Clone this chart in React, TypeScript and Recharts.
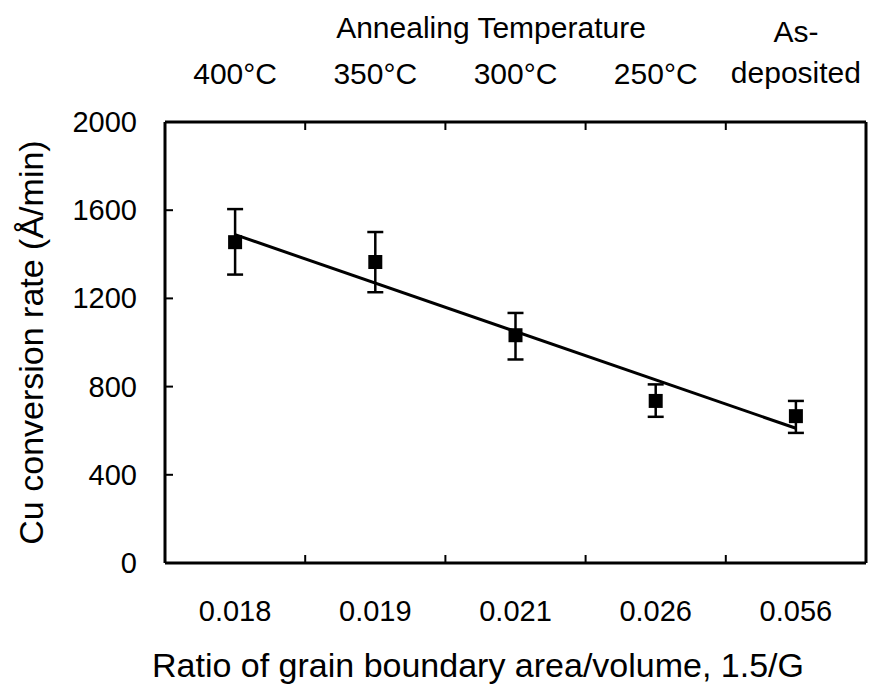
import React from 'react';
import { ComposedChart, Scatter, ErrorBar, XAxis, YAxis, ReferenceLine } from 'recharts';

// grain boundary ratio per sample (bottom axis) and matching anneal condition (top axis)
const ratios = ['0.018', '0.019', '0.021', '0.026', '0.056'];
const temps = ['400°C', '350°C', '300°C', '250°C', 'As-deposited'];

// conversion rate in Å/min with error bar limits
const rates = [1455, 1365, 1033, 735, 666];
const errLow = [1308, 1228, 923, 663, 590];
const errHigh = [1605, 1501, 1134, 810, 735];

// linear fit, value at first and last sample
const trendEnds = [1489, 611];

const yTicks = [0, 400, 800, 1200, 1600, 2000];
// half positions hold labels, whole positions are the slot dividers
const slotTicks = [0.5, 1, 1.5, 2, 2.5, 3, 3.5, 4, 4.5];

const FONT = '"Liberation Sans", Arial, sans-serif';

const data = rates.map((rate, i) => ({
    pos: i + 0.5,
    rate,
    err: [rate - errLow[i], errHigh[i] - rate],
}));

const BottomTick = (props: any) => {
    const { x, y, payload } = props;
    const v = payload.value;
    if (Number.isInteger(v)) {
        return <line x1={x} y1={y} x2={x} y2={y - 8} stroke="#000" strokeWidth={2} />;
    }
    return (
        <text x={x} y={y + 58} textAnchor="middle" fontSize={29} fontFamily={FONT} fill="#000">
            {ratios[Math.floor(v)]}
        </text>
    );
};

const TopTick = (props: any) => {
    const { x, y, payload } = props;
    const v = payload.value;
    if (Number.isInteger(v)) {
        return <line x1={x} y1={y} x2={x} y2={y + 8} stroke="#000" strokeWidth={2} />;
    }
    const label = temps[Math.floor(v)];
    if (label === 'As-deposited') {
        return (
            <text textAnchor="middle" fontSize={30} fontFamily={FONT} fill="#000">
                <tspan x={x} y={y - 80}>As-</tspan>
                <tspan x={x} y={y - 39}>deposited</tspan>
            </text>
        );
    }
    return (
        <text x={x} y={y - 38} textAnchor="middle" fontSize={30} fontFamily={FONT} fill="#000">
            {label}
        </text>
    );
};

const LeftTick = (props: any) => {
    const { x, y, payload } = props;
    return (
        <g>
            <line x1={x} y1={y} x2={x + 8} y2={y} stroke="#000" strokeWidth={2} />
            <text x={x - 28} y={y + 10} textAnchor="end" fontSize={29} fontFamily={FONT} fill="#000">
                {payload.value}
            </text>
        </g>
    );
};

const SquareDot = (props: any) => {
    const { cx, cy } = props;
    return <rect x={cx - 7} y={cy - 7} width={14} height={14} fill="#000" />;
};

const App: React.FC = () => {
    return (
        <div style={{ position: 'absolute', left: 0, top: 0, width: 870, height: 685, background: '#fff' }}>
            <ComposedChart width={870} height={685} data={data} margin={{ top: 0, right: 0, bottom: 0, left: 0 }}>
                <XAxis
                    dataKey="pos"
                    type="number"
                    domain={[0, 5]}
                    ticks={slotTicks}
                    interval={0}
                    height={122}
                    tickSize={0}
                    tickMargin={0}
                    tickLine={false}
                    tick={<BottomTick />}
                    axisLine={{ stroke: '#000', strokeWidth: 3 }}
                    label={({ viewBox }: any) => (
                        <text x={478} y={viewBox.y + 114} textAnchor="middle" fontSize={34} fontFamily={FONT} fill="#000">
                            Ratio of grain boundary area/volume, 1.5/G
                        </text>
                    )}
                />
                <XAxis
                    xAxisId="top"
                    orientation="top"
                    dataKey="pos"
                    type="number"
                    domain={[0, 5]}
                    ticks={slotTicks}
                    interval={0}
                    height={122}
                    tickSize={0}
                    tickMargin={0}
                    tickLine={false}
                    tick={<TopTick />}
                    axisLine={{ stroke: '#000', strokeWidth: 3 }}
                    label={() => (
                        <text x={491} y={38} textAnchor="middle" fontSize={30} fontFamily={FONT} fill="#000">
                            Annealing Temperature
                        </text>
                    )}
                />
                <YAxis
                    type="number"
                    domain={[0, 2000]}
                    ticks={yTicks}
                    interval={0}
                    width={165}
                    tickSize={0}
                    tickMargin={0}
                    tickLine={false}
                    tick={<LeftTick />}
                    axisLine={{ stroke: '#000', strokeWidth: 3 }}
                    label={({ viewBox }: any) => (
                        <text
                            transform={`translate(31, ${viewBox.y + viewBox.height / 2}) rotate(-90)`}
                            textAnchor="middle"
                            dominantBaseline="central"
                            fontSize={34}
                            fontFamily={FONT}
                            fill="#000"
                        >
                            Cu conversion rate (Å/min)
                        </text>
                    )}
                />
                <YAxis
                    yAxisId="right"
                    orientation="right"
                    type="number"
                    domain={[0, 2000]}
                    width={4}
                    tick={false}
                    tickLine={false}
                    axisLine={{ stroke: '#000', strokeWidth: 3 }}
                />
                <ReferenceLine
                    segment={[
                        { x: data[0].pos, y: trendEnds[0] },
                        { x: data[data.length - 1].pos, y: trendEnds[1] },
                    ]}
                    stroke="#000"
                    strokeWidth={3}
                />
                <Scatter dataKey="rate" fill="#000" shape={<SquareDot />} isAnimationActive={false}>
                    <ErrorBar dataKey="err" direction="y" width={8} stroke="#000" strokeWidth={2.5} isAnimationActive={false} />
                </Scatter>
            </ComposedChart>
        </div>
    );
};

export default App;
